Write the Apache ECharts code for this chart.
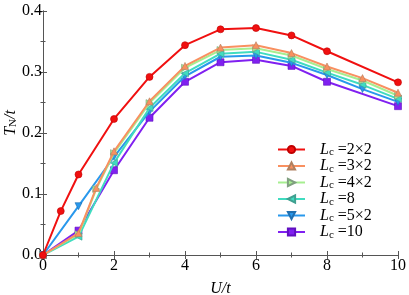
<!DOCTYPE html>
<html><head><meta charset="utf-8">
<script src="https://cdn.jsdelivr.net/npm/echarts@6/dist/echarts.min.js"></script>
<style>html,body{margin:0;padding:0;background:#fff}#c{width:409px;height:295px}</style>
</head><body><div id="c"></div>
<script>
const seriesNames = ['2×2','3×2','4×2','8','5×2','10'];
const uRed = [0,0.5,1,2,3,4,5,6,7,8,10];
const tRed = [0,0.072,0.132,0.223,0.292,0.344,0.370,0.372,0.360,0.334,0.283];
const uOrange = [0,1,1.5,2,3,4,5,6,7,8,9,10];
const tOrange = [0,0.036,0.11,0.170,0.252,0.310,0.340,0.344,0.331,0.309,0.290,0.266];
const uGreen = [0,1,1.5,2,3,4,5,6,7,8,9,10];
const tGreen = [0,0.034,0.108,0.167,0.249,0.307,0.336,0.339,0.327,0.305,0.286,0.261];
const uCyan = [0,1,2,3,4,5,6,7,8,9,10];
const tCyan = [0,0.030,0.151,0.241,0.298,0.330,0.333,0.320,0.299,0.279,0.256];
const uBlue = [0,1,2,3,4,5,6,7,8,9,10];
const tBlue = [0,0.080,0.161,0.235,0.293,0.325,0.327,0.315,0.295,0.272,0.251];
const uPurple = [0,1,2,3,4,5,6,7,8,10];
const tPurple = [0,0.040,0.139,0.225,0.284,0.316,0.320,0.310,0.284,0.244];
const xTicks = [0,2,4,6,8,10];
const yTicks = [0.0,0.1,0.2,0.3,0.4];

const colors = ['#f01010','#f99060','#a6ee90','#40dcc0','#2898ec','#8020f0'];
const borders = ['#c00000','#b08060','#80a080','#40a090','#2070b0','#6010c0'];
const symbols = ['circle','triangle','triangle','triangle','triangle','rect'];
const rotations = [0,0,-90,90,180,0];
const uArr = [uRed,uOrange,uGreen,uCyan,uBlue,uPurple];
const tArr = [tRed,tOrange,tGreen,tCyan,tBlue,tPurple];

const FONT = '"Liberation Serif","Times New Roman",serif';
const chart = echarts.init(document.getElementById('c'), null, {renderer:'canvas'});

const frameColor = '#555';
function axisBase(extra){
  return Object.assign({
    type:'value',
    axisLine:{show:true,lineStyle:{color:frameColor,width:1}},
    axisTick:{show:true,inside:true,length:4,lineStyle:{color:frameColor}},
    minorTick:{show:true,splitNumber:2,length:2.5,lineStyle:{color:frameColor}},
    splitLine:{show:false},
  }, extra);
}

const series = seriesNames.map((n,i)=>({
  name:n, type:'line',
  data: uArr[i].map((u,k)=>[u,tArr[i][k]]),
  symbol: symbols[i], symbolRotate: rotations[i],
  symbolSize: 7,
  showAllSymbol:true,
  lineStyle:{color:colors[i],width:2},
  itemStyle:{color:colors[i],borderColor:borders[i],borderWidth:0.6},
  z: 10-i, animation:false
}));
series[0].z = 20;

chart.setOption({
  animation:false,
  textStyle:{fontFamily:FONT},
  grid:{left:43,right:11,top:11,bottom:40,containLabel:false,outerBoundsMode:'none'},
  xAxis:[
    axisBase({min:0,max:10,interval:2,position:'bottom',
      name:'{i|U/t}',nameLocation:'middle',nameGap:26,nameMoveOverlap:false,
      nameTextStyle:{rich:{i:{fontFamily:FONT,fontStyle:'italic',fontSize:16,color:'#000'}}},
      axisLabel:{fontFamily:FONT,fontSize:16,color:'#000',margin:3,formatter:v=>xTicks.includes(v)?String(v):''}}),
    axisBase({min:0,max:10,interval:2,position:'top',axisLabel:{show:false}})
  ],
  yAxis:[
    axisBase({min:0,max:0.4,interval:0.1,position:'left',
      name:'{i|T}{s|N}{i|/t}',nameLocation:'middle',nameGap:24,nameRotate:90,nameMoveOverlap:false,
      nameTextStyle:{padding:[0,0,0,20],rich:{
        i:{fontFamily:FONT,fontStyle:'italic',fontSize:16,color:'#000'},
        s:{fontFamily:FONT,fontSize:11,color:'#000',padding:[6,0,0,0]}
      }},
      axisLabel:{fontFamily:FONT,fontSize:16,color:'#000',margin:1,formatter:v=>v.toFixed(1)}}),
    axisBase({min:0,max:0.4,interval:0.1,position:'right',axisLabel:{show:false}})
  ],
  legend:{
    orient:'vertical',left:277,top:141,padding:0,
    itemWidth:27,itemHeight:9,itemGap:-0.5,
    data:seriesNames,
    formatter: n => '{i|L}{s|c}{t| =' + n + '}',
    textStyle:{fontFamily:FONT,fontSize:16,color:'#000',padding:[0,0,0,10],
      rich:{
        i:{fontFamily:FONT,fontStyle:'italic',fontSize:16,lineHeight:16,color:'#000'},
        s:{fontFamily:FONT,fontSize:11,lineHeight:10,color:'#000',padding:[6,0,0,0]},
        t:{fontFamily:FONT,fontSize:16,lineHeight:16,color:'#000'}
      }}
  },
  series: series
});
</script></body></html>
